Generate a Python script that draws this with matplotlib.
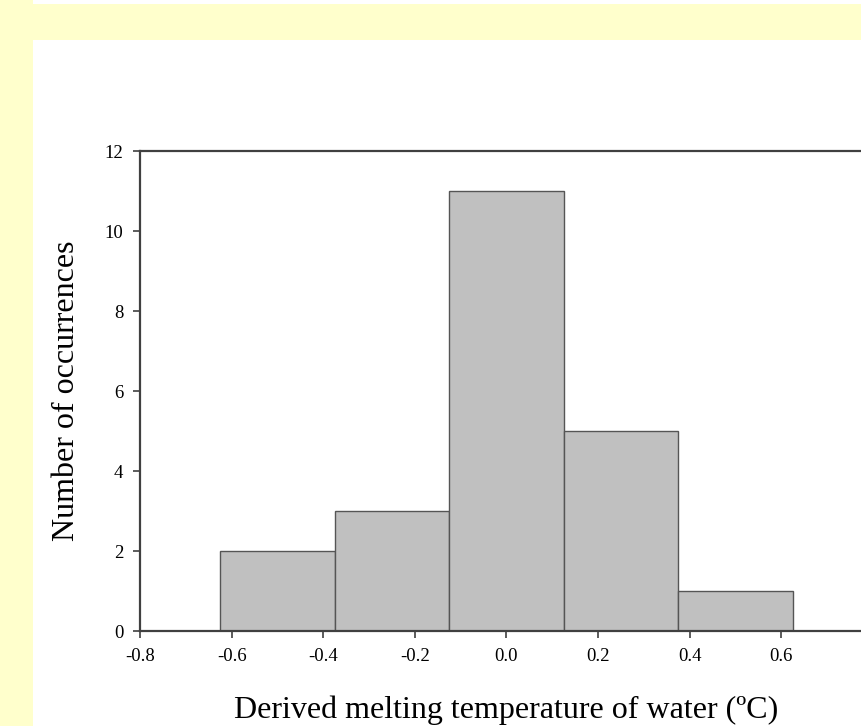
import matplotlib.pyplot as plt
from matplotlib.patches import Rectangle
import numpy as np

# histogram data
bin_edges = [-0.625, -0.375, -0.125, 0.125, 0.375, 0.625]
counts = [2, 3, 11, 5, 1]
x_ticks = [-0.8, -0.6, -0.4, -0.2, 0.0, 0.2, 0.4, 0.6, 0.8]
y_ticks = [0, 2, 4, 6, 8, 10, 12]

plt.rcParams['font.family'] = ['Liberation Serif', 'DejaVu Serif']

fig = plt.figure(figsize=(8.61, 7.26), dpi=100)
fig.patch.set_facecolor('white')

# yellow page strips
yellow = '#FFFFCC'
fig.patches.append(Rectangle((0, 0), 33/861, 1, transform=fig.transFigure,
                             facecolor=yellow, edgecolor='none', zorder=0))
fig.patches.append(Rectangle((33/861, 1 - 40/726), 1, 36/726, transform=fig.transFigure,
                             facecolor=yellow, edgecolor='none', zorder=0))

ax = fig.add_axes([140/861, 95/726, 733/861, 480/726])
ax.set_facecolor('none')

widths = np.diff(bin_edges)
ax.bar(bin_edges[:-1], counts, width=widths, align='edge',
       color='#C0C0C0', edgecolor='#555555', linewidth=1.0)

ax.set_xlim(-0.8, 0.8)
ax.set_ylim(0, 12)
ax.set_xticks(x_ticks)
ax.set_xticklabels(['%.1f' % v for v in x_ticks])
ax.set_yticks(y_ticks)

for s in ['left', 'bottom', 'top', 'right']:
    ax.spines[s].set_color('#404040')
    ax.spines[s].set_linewidth(1.6)

ax.tick_params(direction='out', length=5, width=1.2, color='#404040',
               labelsize=13.5, pad=7)

ax.set_xlabel('Derived melting temperature of water (ºC)', fontsize=23, va='center')
ax.set_ylabel('Number of occurrences', fontsize=23, va='center')
ax.xaxis.set_label_coords(0.5, (631 - 710) / 480)
ax.yaxis.set_label_coords((67 - 140) / 733, 0.5)

plt.savefig('out.png', dpi=100)
